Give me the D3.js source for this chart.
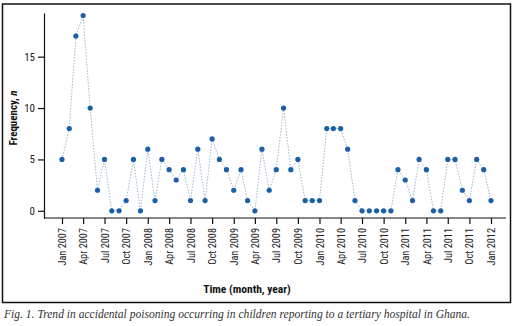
<!DOCTYPE html>
<html>
<head>
<meta charset="utf-8">
<script src="https://cdn.jsdelivr.net/npm/d3@7"></script>
<style>
  body { margin: 0; background: #fff; }
  svg { display: block; }
  .tick text { fill: #222; }
</style>
</head>
<body>
<div id="chart-area"></div>
<script>
// monthly counts, Jan 2007 .. Jan 2012
var startMonth = "2007-01";
var counts2007 = [5, 8, 17, 19, 10, 2, 5, 0, 0, 1, 5, 0];
var counts2008 = [6, 1, 5, 4, 3, 4, 1, 6, 1, 7, 5, 4];
var counts2009 = [2, 4, 1, 0, 6, 2, 4, 10, 4, 5, 1, 1];
var counts2010 = [1, 8, 8, 8, 6, 1, 0, 0, 0, 0, 0, 4];
var counts2011 = [3, 1, 5, 4, 0, 0, 5, 5, 2, 1, 5, 4];
var counts2012 = [1];
var yTicks = [0, 5, 10, 15];
var tickEvery = 3; // a tick label every quarter

var counts = [].concat(counts2007, counts2008, counts2009, counts2010, counts2011, counts2012);
var parse = d3.timeParse("%Y-%m");
var t0 = parse(startMonth);
var data = counts.map((c, i) => ({ date: d3.timeMonth.offset(t0, i), value: c }));

var width = 514, height = 326;
var svg = d3.select("#chart-area").append("svg")
    .attr("width", width)
    .attr("height", height);

// frame
svg.append("rect")
    .attr("x", 2.5).attr("y", 4)
    .attr("width", 508).attr("height", 298.5)
    .attr("fill", "none")
    .attr("stroke", "#111")
    .attr("stroke-width", 1.5);

var x = d3.scaleTime()
    .domain([data[0].date, data[data.length - 1].date])
    .range([62, 491]);

var y = d3.scaleLinear()
    .domain([-0.7, 19.25])
    .range([218, 13]);

var axisFont = "'Liberation Sans Narrow', 'Roboto Condensed', 'Liberation Sans', sans-serif";

// y axis
var leftAxis = d3.axisLeft(y).tickValues(yTicks).tickSize(6).tickSizeOuter(0).tickPadding(3);
var gy = svg.append("g")
    .attr("transform", "translate(44,0)")
    .call(leftAxis);
gy.select(".domain").attr("stroke", "#111").attr("stroke-width", 1.2);
gy.selectAll(".tick line").attr("stroke", "#111").attr("stroke-width", 1.2);
gy.selectAll(".tick text").attr("font-size", "11px").attr("font-family", axisFont);

// x axis
var xTickDates = data.filter((d, i) => i % tickEvery === 0).map(d => d.date);
var bottomAxis = d3.axisBottom(x)
    .tickValues(xTickDates)
    .tickFormat(d3.timeFormat("%b %Y"))
    .tickSize(6)
    .tickSizeOuter(0);
var gx = svg.append("g")
    .attr("transform", "translate(0,218)")
    .call(bottomAxis);
gx.select(".domain").attr("d", "M44,0H506").attr("stroke", "#111").attr("stroke-width", 1.2);
gx.selectAll(".tick line").attr("stroke", "#111").attr("stroke-width", 1.2);
gx.selectAll(".tick text")
    .attr("font-size", "10.3px")
    .attr("font-family", axisFont)
    .attr("text-anchor", "end")
    .attr("dy", "0.35em")
    .attr("transform", "translate(0,10) rotate(-90)")
    .attr("x", 0)
    .attr("y", 0);

// axis titles
svg.append("text")
    .attr("transform", "translate(17,118) rotate(-90)")
    .attr("text-anchor", "middle")
    .attr("font-size", "11px")
    .attr("font-weight", "bold")
    .attr("font-family", axisFont)
    .attr("fill", "#111")
    .call(t => {
        t.append("tspan").text("Frequency, ");
        t.append("tspan").attr("font-style", "italic").text("n");
    });

svg.append("text")
    .attr("x", 247)
    .attr("y", 293)
    .attr("text-anchor", "middle")
    .attr("font-size", "11.5px")
    .attr("font-weight", "bold")
    .attr("font-family", axisFont)
    .attr("fill", "#111")
    .text("Time (month, year)");

// line + points
var line = d3.line()
    .x(d => x(d.date))
    .y(d => y(d.value));

svg.append("path")
    .datum(data)
    .attr("d", line)
    .attr("fill", "none")
    .attr("stroke", "#9fb6cc")
    .attr("stroke-width", 1)
    .attr("stroke-dasharray", "1.5,1.5");

svg.selectAll("circle.pt")
    .data(data)
    .enter()
    .append("circle")
    .attr("class", "pt")
    .attr("cx", d => x(d.date))
    .attr("cy", d => y(d.value))
    .attr("r", 2.6)
    .attr("fill", "#1a5fa8");

// caption
svg.append("text")
    .attr("x", 4)
    .attr("y", 318)
    .attr("font-size", "12px")
    .attr("font-style", "italic")
    .attr("font-family", "'Liberation Serif', 'DejaVu Serif', serif")
    .attr("fill", "#333")
    .attr("textLength", 466)
    .attr("lengthAdjust", "spacingAndGlyphs")
    .text("Fig. 1. Trend in accidental poisoning occurring in children reporting to a tertiary hospital in Ghana.");
</script>
</body>
</html>
